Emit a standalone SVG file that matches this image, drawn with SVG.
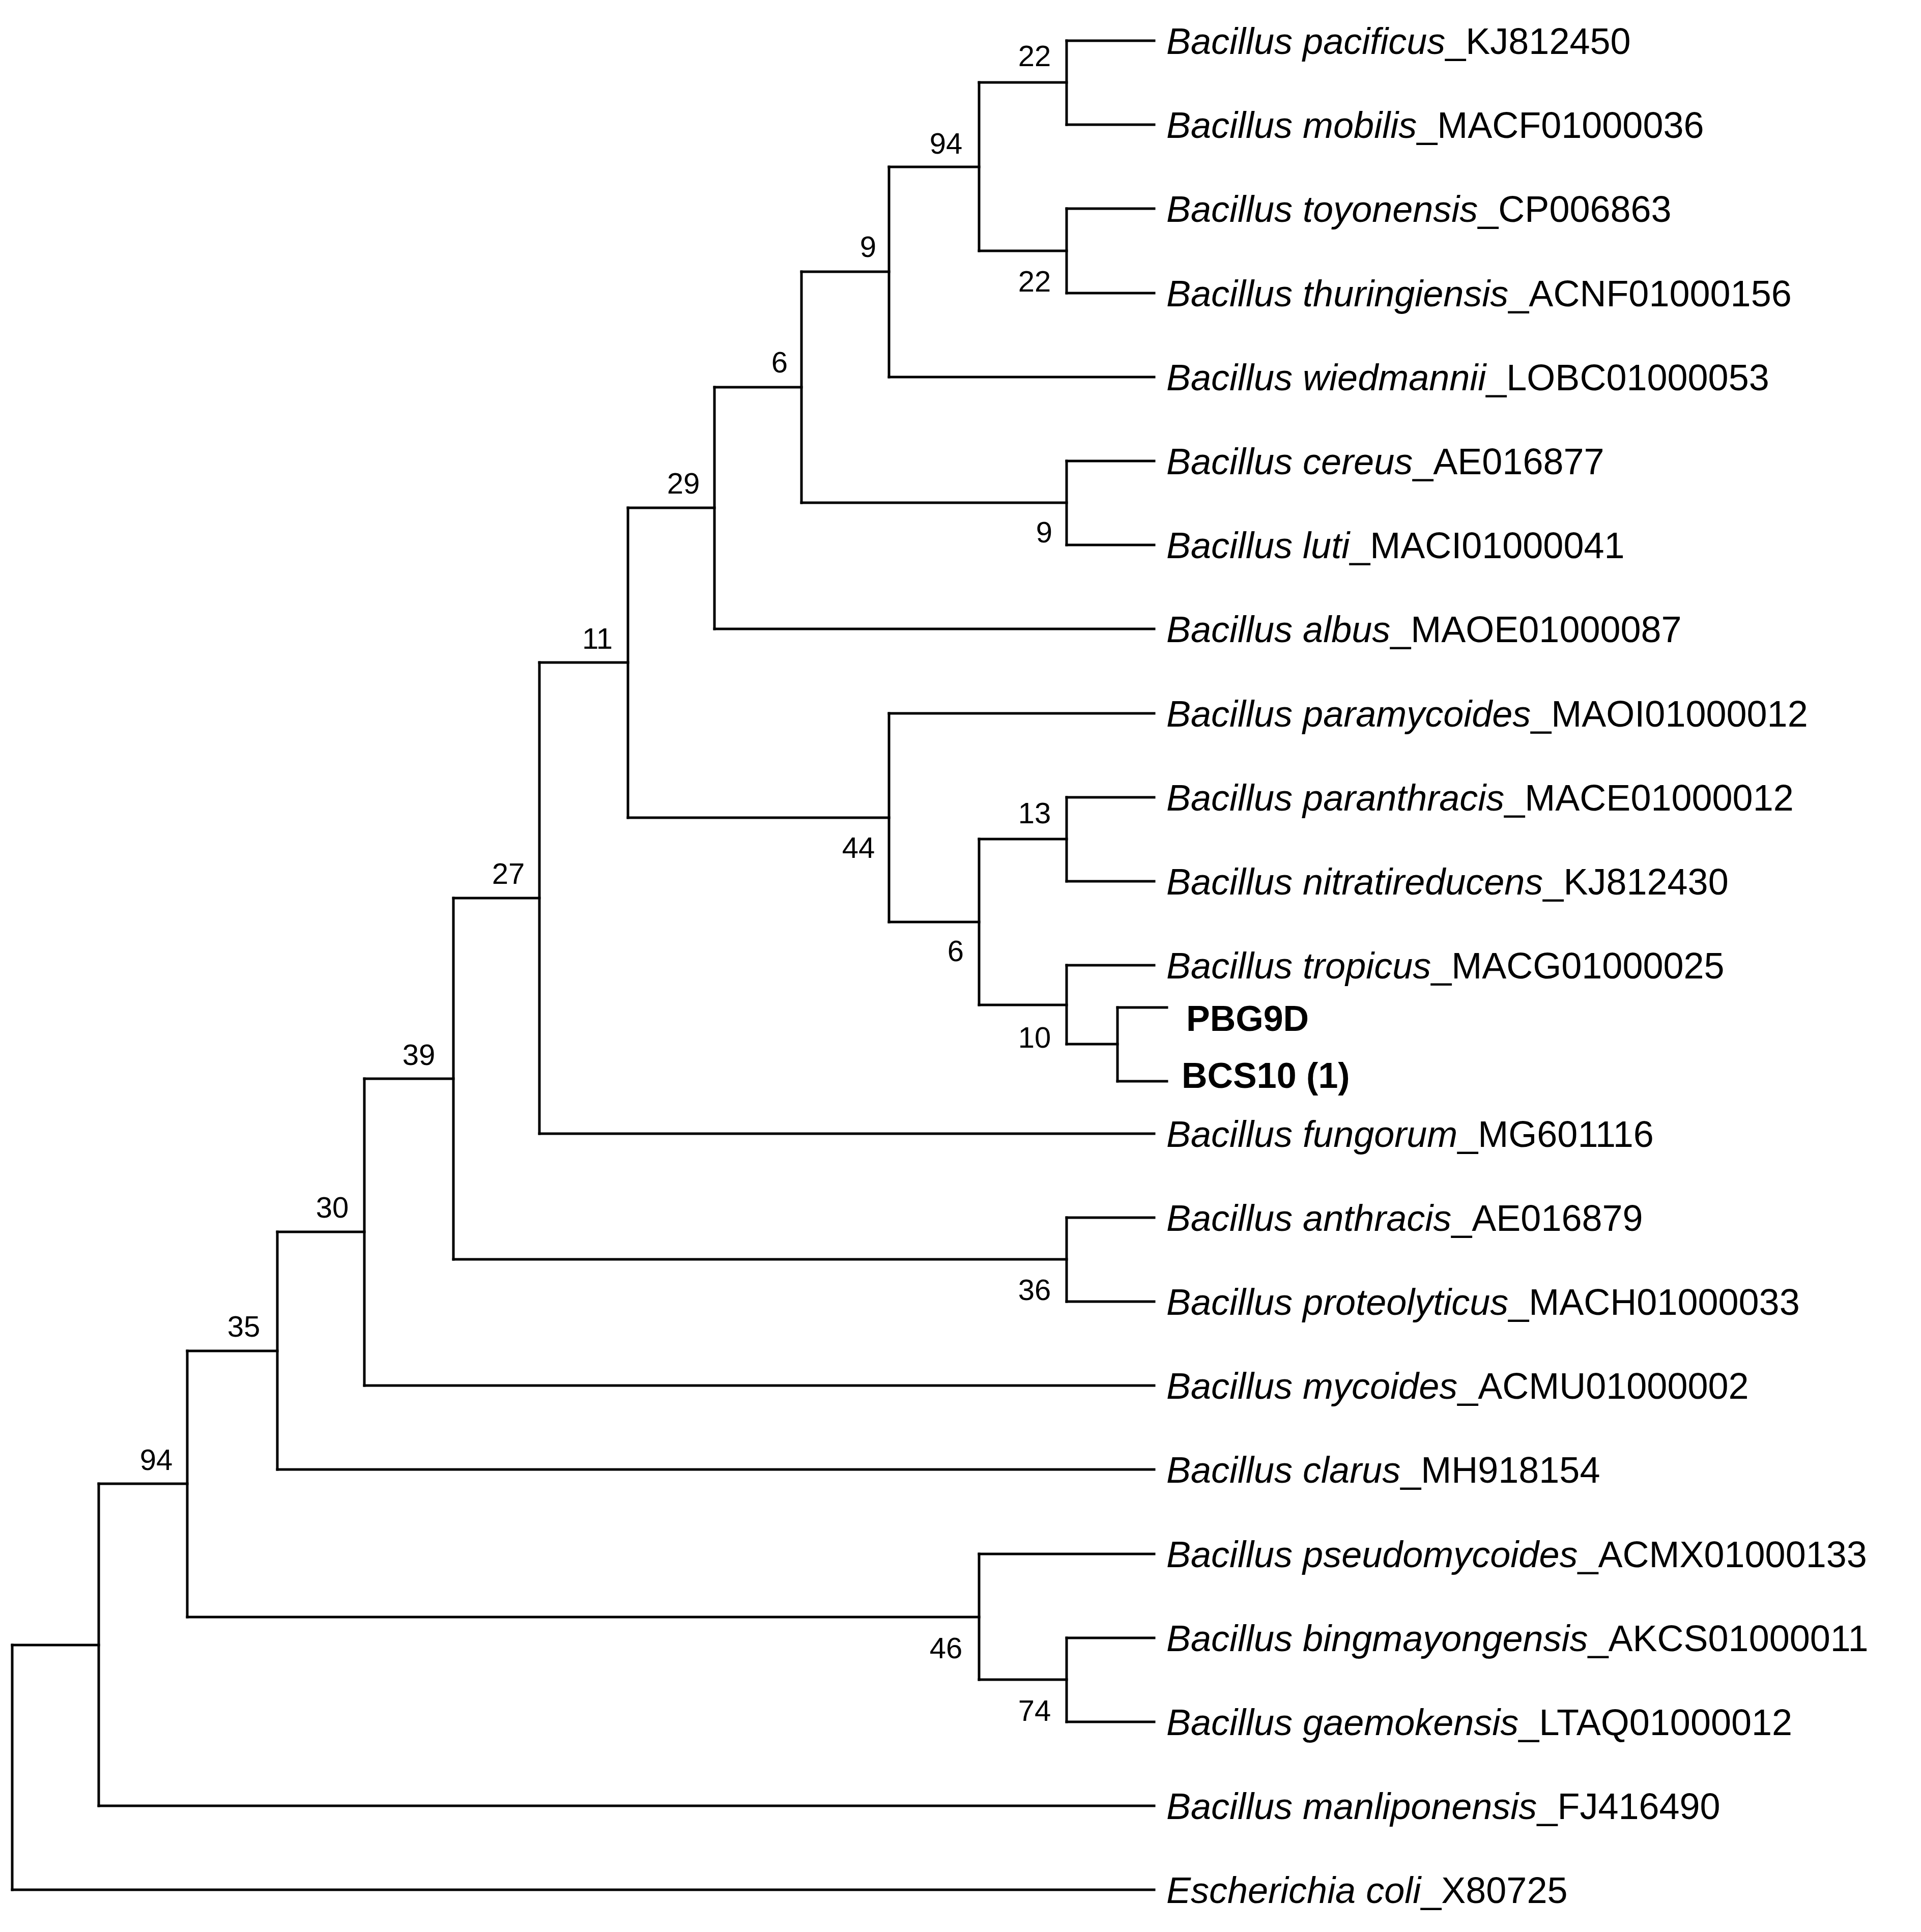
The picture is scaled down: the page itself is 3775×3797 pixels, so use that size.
<svg xmlns="http://www.w3.org/2000/svg" width="3775" height="3797" viewBox="0 0 3775 3797">
<style>
.br{fill:none;stroke:#000;stroke-width:5;stroke-linecap:square}
.lf{font-family:"Liberation Sans",Arial,sans-serif;font-size:72px;fill:#000}
.lf tspan.i{font-style:italic}
.bd{font-family:"Liberation Sans",Arial,sans-serif;font-size:70px;font-weight:bold;fill:#000}
.bs{font-family:"Liberation Sans",Arial,sans-serif;font-size:58px;fill:#000;text-anchor:middle}
</style>
<rect width="3775" height="3797" fill="#fff"/>
<g id="connectors">
<path class="br" d="M2096 80V245M2096 410V576M1924 162V493M1747 328V741M2096 906V1071M1575 534V988M1404 761V1236M2096 1567V1732M2196 1980V2125M2096 1897V2052M1924 1649V1975M1747 1402V1812M1234 998V1607M1060 1302V2228M2096 2393V2558M891 1765V2475M716 2120V2723M545 2421V2888M2096 3219V3384M1924 3054V3301M368 2655V3178M194 2916V3549M24 3233V3714"/>
<path class="br" d="M2096 80H2268M2096 245H2268M2096 410H2268M2096 576H2268M1747 741H2268M2096 906H2268M2096 1071H2268M1404 1236H2268M1747 1402H2268M2096 1567H2268M2096 1732H2268M2096 1897H2268M2196 1980H2293M2196 2125H2293M1060 2228H2268M2096 2393H2268M2096 2558H2268M716 2723H2268M545 2888H2268M1924 3054H2268M2096 3219H2268M2096 3384H2268M194 3549H2268M24 3714H2268"/>
<path class="br" d="M1924 162H2096M1924 493H2096M1747 328H1924M1575 534H1747M1575 988H2096M1404 761H1575M1234 998H1404M1924 1649H2096M2096 2052H2196M1924 1975H2096M1747 1812H1924M1234 1607H1747M1060 1302H1234M891 1765H1060M891 2475H2096M716 2120H891M545 2421H716M368 2655H545M1924 3301H2096M368 3178H1924M194 2916H368M24 3233H194"/>
</g>
<g id="leaves">
<text id="n0" class="lf" x="2292" y="106"><tspan class="i">Bacillus pacificus</tspan>_KJ812450</text>
<text id="n1" class="lf" x="2292" y="271"><tspan class="i">Bacillus mobilis</tspan>_MACF01000036</text>
<text id="n2" class="lf" x="2292" y="436"><tspan class="i">Bacillus toyonensis</tspan>_CP006863</text>
<text id="n3" class="lf" x="2292" y="602"><tspan class="i">Bacillus thuringiensis</tspan>_ACNF01000156</text>
<text id="n4" class="lf" x="2292" y="767"><tspan class="i">Bacillus wiedmannii</tspan>_LOBC01000053</text>
<text id="n5" class="lf" x="2292" y="932"><tspan class="i">Bacillus cereus</tspan>_AE016877</text>
<text id="n6" class="lf" x="2292" y="1097"><tspan class="i">Bacillus luti</tspan>_MACI01000041</text>
<text id="n7" class="lf" x="2292" y="1262"><tspan class="i">Bacillus albus</tspan>_MAOE01000087</text>
<text id="n8" class="lf" x="2292" y="1428"><tspan class="i">Bacillus paramycoides</tspan>_MAOI01000012</text>
<text id="n9" class="lf" x="2292" y="1593"><tspan class="i">Bacillus paranthracis</tspan>_MACE01000012</text>
<text id="n10" class="lf" x="2292" y="1758"><tspan class="i">Bacillus nitratireducens</tspan>_KJ812430</text>
<text id="n11" class="lf" x="2292" y="1923"><tspan class="i">Bacillus tropicus</tspan>_MACG01000025</text>
<text id="pbg9d" class="bd" x="2331" y="2026">PBG9D</text>
<text id="bcs10" class="bd" x="2322" y="2138">BCS10 (1)</text>
<text id="n13" class="lf" x="2292" y="2254"><tspan class="i">Bacillus fungorum</tspan>_MG601116</text>
<text id="n14" class="lf" x="2292" y="2419"><tspan class="i">Bacillus anthracis</tspan>_AE016879</text>
<text id="n15" class="lf" x="2292" y="2584"><tspan class="i">Bacillus proteolyticus</tspan>_MACH01000033</text>
<text id="n16" class="lf" x="2292" y="2749"><tspan class="i">Bacillus mycoides</tspan>_ACMU01000002</text>
<text id="n17" class="lf" x="2292" y="2914"><tspan class="i">Bacillus clarus</tspan>_MH918154</text>
<text id="n18" class="lf" x="2292" y="3080"><tspan class="i">Bacillus pseudomycoides</tspan>_ACMX01000133</text>
<text id="n19" class="lf" x="2292" y="3245"><tspan class="i">Bacillus bingmayongensis</tspan>_AKCS01000011</text>
<text id="n20" class="lf" x="2292" y="3410"><tspan class="i">Bacillus gaemokensis</tspan>_LTAQ01000012</text>
<text id="n21" class="lf" x="2292" y="3575"><tspan class="i">Bacillus manliponensis</tspan>_FJ416490</text>
<text id="n22" class="lf" x="2292" y="3740"><tspan class="i">Escherichia coli</tspan>_X80725</text>
</g>
<g id="bootstrap">
<text class="bs" x="2033" y="130">22</text>
<text class="bs" x="1859" y="302">94</text>
<text class="bs" x="2033" y="573">22</text>
<text class="bs" x="1706" y="505">9</text>
<text class="bs" x="1532" y="732">6</text>
<text class="bs" x="2052" y="1066">9</text>
<text class="bs" x="1343" y="970">29</text>
<text class="bs" x="1174" y="1275">11</text>
<text class="bs" x="2033" y="1618">13</text>
<text class="bs" x="1687" y="1686">44</text>
<text class="bs" x="1878" y="1889">6</text>
<text class="bs" x="2033" y="2059">10</text>
<text class="bs" x="999" y="1737">27</text>
<text class="bs" x="823" y="2093">39</text>
<text class="bs" x="2033" y="2555">36</text>
<text class="bs" x="653" y="2393">30</text>
<text class="bs" x="479" y="2627">35</text>
<text class="bs" x="307" y="2889">94</text>
<text class="bs" x="1859" y="3259">46</text>
<text class="bs" x="2033" y="3382">74</text>
</g>
</svg>
